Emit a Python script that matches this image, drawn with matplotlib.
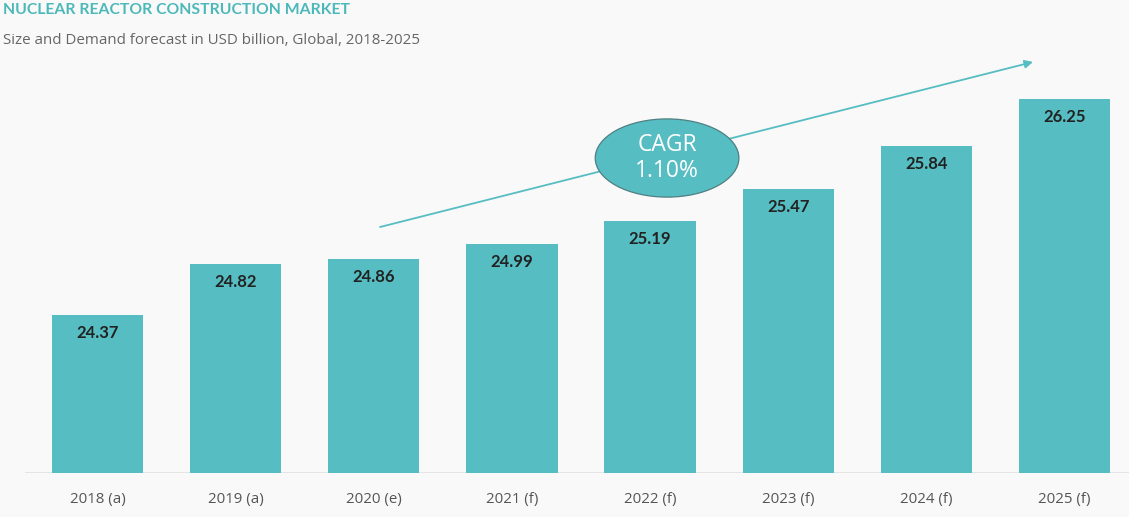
import matplotlib
matplotlib.use("Agg")
import matplotlib.pyplot as plt
from matplotlib.patches import Ellipse

categories = ["2018 (a)", "2019 (a)", "2020 (e)", "2021 (f)", "2022 (f)", "2023 (f)", "2024 (f)", "2025 (f)"]
values = [24.37, 24.82, 24.86, 24.99, 25.19, 25.47, 25.84, 26.25]
title = "NUCLEAR REACTOR CONSTRUCTION MARKET"
subtitle = "Size and Demand forecast in USD billion, Global, 2018-2025"
cagr_text = "CAGR\n1.10%"

plt.rcParams['font.family'] = ['Open Sans', 'DejaVu Sans']
BOLD_FAMILY = ['Lato', 'DejaVu Sans']
BG = "#f9f9f9"
BAR = "#56bdc2"

W, H = 1129, 517
fig = plt.figure(figsize=(W/100, H/100), dpi=100, facecolor=BG)
ax = fig.add_axes([25/W, (H-473)/H, (W-25)/W, 473/H])
ax.set_facecolor(BG)

x = list(range(len(categories)))
ax.bar(x, values, width=0.66, color=BAR, zorder=2)
ax.set_xlim(-0.525, 7.467)
ax.set_ylim(23.0, 23.0 + 473/115)
ax.axhline(23.0, color="#e0e0e0", lw=1.2, zorder=1)

for xi, v in zip(x, values):
    ax.annotate(f"{v:.2f}", (xi, v), xytext=(0, -18), textcoords="offset pixels",
                ha="center", va="center", fontsize=12, fontweight="bold", family=BOLD_FAMILY,
                color="#222222", zorder=3)

ax.set_xticks(x)
ax.set_xticklabels(categories, fontsize=10.8, color="#555555")
ax.tick_params(axis="x", length=0, pad=14)
ax.set_yticks([])
for s in ax.spines.values():
    s.set_visible(False)

# trend arrow
ax.annotate("", xy=(6.772, 26.574), xytext=(2.045, 25.139),
            arrowprops=dict(arrowstyle="-|>", color=BAR, lw=1.3, mutation_scale=12, shrinkA=0, shrinkB=0),
            zorder=1)
ell = Ellipse((4.123, 25.739), 1.04, 0.68, facecolor=BAR, edgecolor="#4f7f83", lw=0.9, zorder=4)
ax.add_patch(ell)
ax.text(4.123, 25.739, cagr_text, ha="center", va="center", fontsize=16.5, color="white",
        linespacing=1.1, zorder=5)

fig.text(3/W, 1 - 10/H, title, ha="left", va="center", fontsize=11.3, fontweight="bold",
         family=BOLD_FAMILY, color="#4db8ba")
fig.text(3/W, 1 - 40/H, subtitle, ha="left", va="center", fontsize=10.9, color="#666666")

fig.savefig("out.png", dpi=100, facecolor=BG)
